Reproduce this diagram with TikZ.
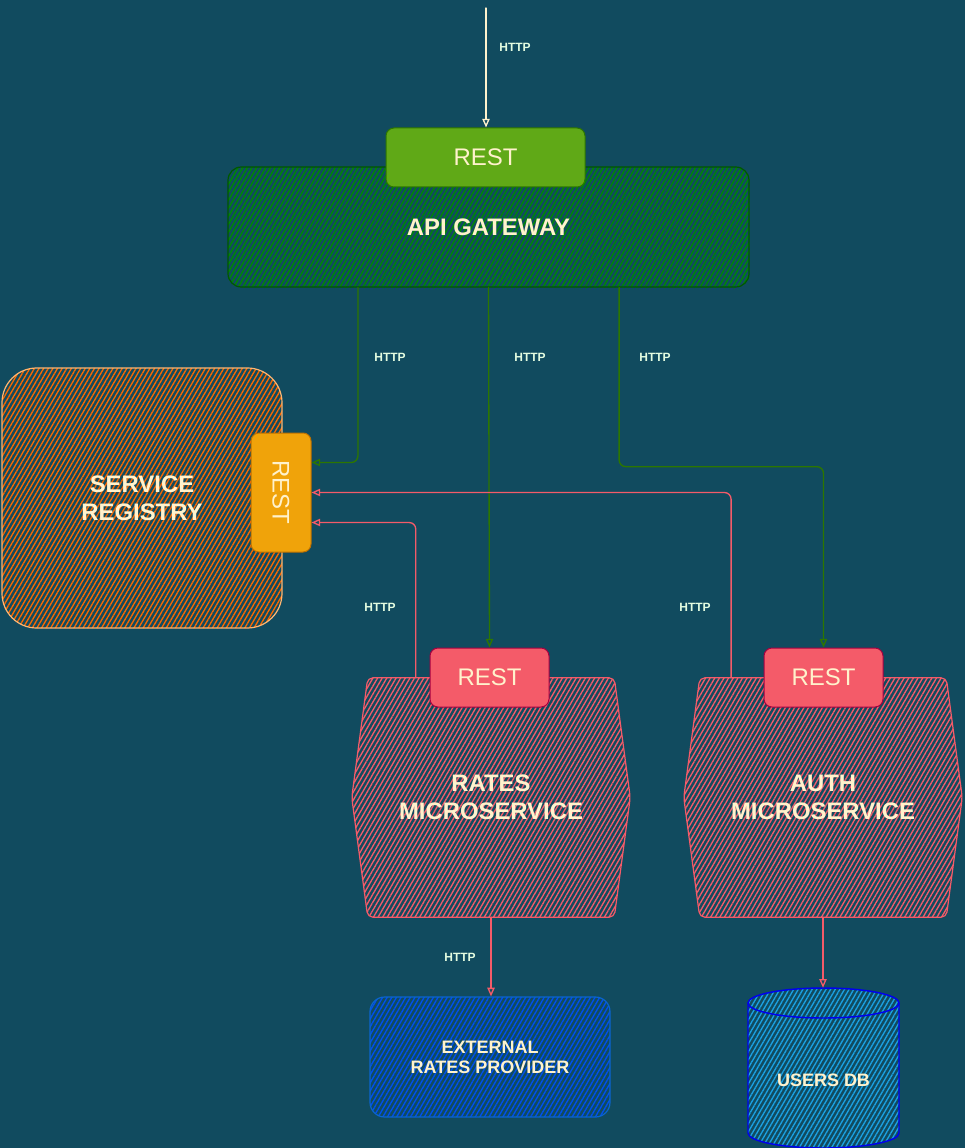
\documentclass[tikz,border=0pt]{standalone}
\usepackage{fontspec}
\setmainfont{Liberation Sans}
\usetikzlibrary{arrows.meta,patterns.meta,calc}

\definecolor{bgteal}{HTML}{114B5F}
\definecolor{txtcream}{HTML}{FFF2CC}
\definecolor{lblmint}{HTML}{E4FDE1}
\definecolor{gwgreen}{HTML}{008A00}
\definecolor{gwline}{HTML}{005700}
\definecolor{restgreen}{HTML}{60A917}
\definecolor{linkgreen}{HTML}{2D7600}
\definecolor{regorange}{HTML}{FA6800}
\definecolor{regline}{HTML}{FFB570}
\definecolor{restorange}{HTML}{F0A30A}
\definecolor{restorangeline}{HTML}{BD7000}
\definecolor{msred}{HTML}{F45B69}
\definecolor{restredline}{HTML}{A50040}
\definecolor{extblue}{HTML}{0050EF}
\definecolor{extline}{HTML}{0A64D0}
\definecolor{dbblue}{HTML}{1BA1E2}
\definecolor{dbline}{HTML}{0000EE}

\begin{document}
\begin{tikzpicture}[x=0.75pt,y=-0.75pt,line join=round,line cap=round,
    >={Triangle[open,length=6.5pt,width=5.5pt]}]
	\tikzset{
		hatch/.style={pattern={Lines[angle=60,distance=3pt,line width=1pt]}},
		bigtxt/.style={text=txtcream,align=center,font=\bfseries\fontsize{17.9}{21}\selectfont},
		smalltxt/.style={text=txtcream,align=center,font=\bfseries\fontsize{13.5}{15}\selectfont},
		restbox/.style={rounded corners=6pt,inner sep=0pt,line width=0.75pt,text=txtcream,
			font=\fontsize{18}{20}\selectfont,minimum width=119*0.75pt,minimum height=59*0.75pt},
		http/.style={text=lblmint,font=\bfseries\fontsize{9}{10}\selectfont},
		link/.style={->,line width=1pt,rounded corners=5pt}
	}
	% background
	\fill[bgteal] (0,0) rectangle (965,1148);
	\useasboundingbox (0,0) rectangle (965,1148);
	
	% gateway
	\node[bigtxt,draw=gwline,line width=0.9pt,hatch,pattern color=gwgreen,rounded corners=10pt,
		minimum width=521*0.75pt,minimum height=120*0.75pt] (gw) at (488.5,227) {API GATEWAY};
	\node[restbox,fill=restgreen,draw=linkgreen,minimum width=199*0.75pt] (gwrest) at (485.5,157.5) {REST};
	
	% service registry
	\node[bigtxt,draw=regline,line width=0.9pt,hatch,pattern color=regorange,rounded corners=26pt,
		minimum width=280*0.75pt,minimum height=260*0.75pt] (reg) at (142,498) {SERVICE\\REGISTRY};
	\node[restbox,fill=restorange,draw=restorangeline,minimum width=60*0.75pt,
		minimum height=119*0.75pt] (srest) at (281,492.5) {\rotatebox{-90}{REST}};
	
	% microservices
	\foreach \ms/\xx/\name in {rates/491/RATES, auth/823/AUTH}{
		\node[inner sep=0pt,minimum width=278*0.75pt,minimum height=239*0.75pt] (\ms) at (\xx,797.5) {};
		\draw[msred,line width=0.9pt,hatch,pattern color=msred,rounded corners=4pt]
			([xshift=12pt]\ms.north west) -- ([xshift=-12pt]\ms.north east) -- (\ms.east)
			-- ([xshift=-12pt]\ms.south east) -- ([xshift=12pt]\ms.south west) -- (\ms.west) -- cycle;
		\node[bigtxt] (\ms txt) at (\ms) {\name\\MICROSERVICE};
	}
	\node[restbox,fill=msred,draw=restredline] (rrest) at (489.5,677.5) {REST};
	\node[restbox,fill=msred,draw=restredline] (arest) at (823.5,677.5) {REST};
	
	% external provider
	\node[smalltxt,draw=extline,line width=0.9pt,hatch,pattern color=extblue,rounded corners=11pt,
		minimum width=240*0.75pt,minimum height=120*0.75pt] (ext) at (490,1057) {EXTERNAL\\RATES PROVIDER};
	
	% users db
	\node[inner sep=0pt,minimum width=151*0.75pt,minimum height=160*0.75pt] (db) at (823.5,1068) {};
	\draw[dbline,line width=1.1pt,hatch,pattern color=dbblue]
		(748,1003) arc[start angle=180,end angle=360,x radius=75.5,y radius=15]
		-- (899,1133) arc[start angle=0,end angle=180,x radius=75.5,y radius=15] -- cycle;
	\draw[dbline,line width=1.1pt] (748,1003) arc[start angle=180,end angle=0,x radius=75.5,y radius=15];
	\node[smalltxt] (dbtxt) at ($(db.center)+(0,12)$) {USERS DB};
	
	% links
	\coordinate (client) at (486,8);
	\draw[link,txtcream] (client) -- (client |- gwrest.north);
	\draw[link,linkgreen] ($(gw.south west)!0.25!(gw.south east)$)
		|- ($(srest.north east)!0.25!(srest.south east)$);
	\draw[link,linkgreen] ($(gw.south west)!0.5!(gw.south east)$) -- (rrest.north);
	\draw[link,linkgreen] ($(gw.south west)!0.75!(gw.south east)$) -- ++(0,179) -| (arest.north);
	\draw[link,msred] ($(rates.north west)!0.23!(rates.north east)$)
		|- ($(srest.north east)!0.75!(srest.south east)$);
	\draw[link,msred] ($(auth.north west)!0.17!(auth.north east)$) |- (srest.east);
	\draw[link,msred] (rates.south) -- (rates.south |- ext.north);
	\draw[link,msred] (auth.south) -- (auth.south |- db.north);
	
	% labels
	\node[http] (h0) at (515,47) {HTTP};
	\node[http] (h1) at (390,357) {HTTP};
	\node[http] (h2) at (530,357) {HTTP};
	\node[http] (h3) at (655,357) {HTTP};
	\node[http] (h4) at (380,607) {HTTP};
	\node[http] (h5) at (695,607) {HTTP};
	\node[http] (h6) at (460,957) {HTTP};
\end{tikzpicture}
\end{document}
